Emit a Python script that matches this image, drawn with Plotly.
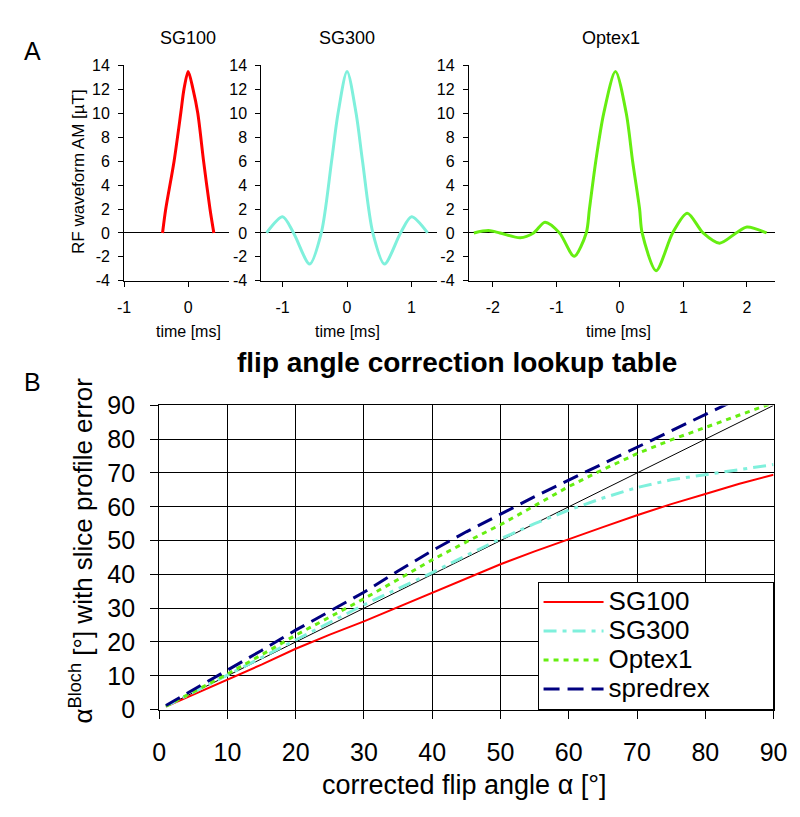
import plotly.graph_objects as go

# --- panel A: RF waveform amplitude [uT] vs time [ms] ---
sg100_t = [-0.40, -0.35, -0.22, -0.116, -0.066, 0.0, 0.076, 0.15, 0.24, 0.34, 0.40]
sg100_b1 = [0.0, 2.0, 6.0, 10.0, 12.0, 13.5, 12.0, 10.0, 6.0, 2.0, 0.0]

sg300_t = [-1.25, -1.0, -0.83, -0.58, -0.40, -0.24, -0.14, 0.0, 0.14, 0.24, 0.40, 0.58, 0.83, 1.0, 1.25]
sg300_b1 = [0.0, 1.35, 0.0, -2.6, 0.0, 6.0, 10.0, 13.5, 10.0, 6.0, 0.0, -2.6, 0.0, 1.35, 0.0]

optex_t = [-2.30, -2.07, -1.89, -1.57, -1.36, -1.18, -0.95, -0.72, -0.53, -0.48, -0.38, -0.255,
           -0.07, 0.10, 0.20, 0.31, 0.35, 0.57, 0.83, 1.06, 1.31, 1.57, 1.83, 2.0, 2.31]
optex_b1 = [0.0, 0.2, 0.0, -0.4, 0.0, 0.9, 0.0, -1.95, 0.0, 2.0, 6.0, 10.0,
            13.5, 10.0, 6.0, 2.0, 0.0, -3.15, 0.0, 1.65, 0.0, -0.85, 0.0, 0.5, 0.0]

b1_ticks = [-4, -2, 0, 2, 4, 6, 8, 10, 12, 14]
b1_labels = ["-4", "-2", "0", "2", "4", "6", "8", "10", "12", "14"]
t_ticks = [-2, -1, 0, 1, 2]
t_labels = ["-2", "-1", "0", "1", "2"]

# --- panel B: flip angle correction lookup table ---
alpha = [1, 5, 10, 15, 20, 25, 30, 35, 40, 45, 50, 55, 60, 65, 70, 75, 80, 85, 90]
sg100 = [0.9, 4.4, 8.8, 13.3, 18.0, 22.2, 26.1, 30.3, 34.5, 38.8, 43.0, 46.8, 50.5, 54.0, 57.5, 60.8, 63.8, 66.8, 69.5]
sg300 = [1.0, 5.0, 10.2, 15.4, 20.6, 25.8, 31.0, 35.8, 40.5, 45.6, 50.5, 55.0, 59.0, 62.6, 65.7, 68.0, 69.6, 71.0, 72.5]
optex1 = [1.0, 5.2, 10.5, 16.2, 22.0, 27.4, 32.8, 38.5, 44.3, 49.6, 54.7, 60.3, 66.0, 71.0, 75.7, 79.8, 83.5, 87.2, 90.8]
spredrex = [1.2, 5.8, 11.5, 17.5, 23.5, 29.0, 34.7, 41.0, 47.0, 52.6, 57.8, 63.0, 67.9, 72.8, 77.6, 82.6, 87.6, 92.5, 97.0]
identity = [1, 90]

W, H = 800, 817
FONT = "Liberation Sans, Arial, sans-serif"

RED = "#FF0000"
CYAN = "#7FF0DC"
GREEN = "#66EE11"
NAVY = "#000080"


def px_x(p):
    return p / W


def px_y(p):
    return 1 - p / H


def big(name):
    # legend text larger than the legend row height would allow, padded to widen the box
    return '<span style="font-size:26px">' + name + "\u00a0" * 8 + "</span>"


fig = go.Figure()

# top waveforms
fig.add_trace(go.Scatter(x=sg100_t, y=sg100_b1, mode="lines", line=dict(color=RED, width=3, shape="spline", smoothing=0.8),
                         xaxis="x", yaxis="y", showlegend=False))
fig.add_trace(go.Scatter(x=sg300_t, y=sg300_b1, mode="lines", line=dict(color=CYAN, width=3, shape="spline", smoothing=0.8),
                         xaxis="x2", yaxis="y2", showlegend=False))
fig.add_trace(go.Scatter(x=optex_t, y=optex_b1, mode="lines", line=dict(color=GREEN, width=3, shape="spline", smoothing=0.8),
                         xaxis="x3", yaxis="y3", showlegend=False))

# lookup table
fig.add_trace(go.Scatter(x=identity, y=identity, mode="lines", line=dict(color="black", width=1),
                         xaxis="x4", yaxis="y4", showlegend=False))
fig.add_trace(go.Scatter(x=alpha, y=sg100, mode="lines", name=big("SG100"), line=dict(color=RED, width=2),
                         xaxis="x4", yaxis="y4"))
fig.add_trace(go.Scatter(x=alpha, y=sg300, mode="lines", name=big("SG300"),
                         line=dict(color=CYAN, width=3, dash="13px,6px,4px,6px"), xaxis="x4", yaxis="y4"))
fig.add_trace(go.Scatter(x=alpha, y=optex1, mode="lines", name=big("Optex1"),
                         line=dict(color=GREEN, width=3, dash="5px,5px"), xaxis="x4", yaxis="y4"))
fig.add_trace(go.Scatter(x=alpha, y=spredrex, mode="lines", name=big("spredrex"),
                         line=dict(color=NAVY, width=3, dash="16px,8px"), xaxis="x4", yaxis="y4"))

top_dom = [px_y(268), px_y(45)]
top_x = dict(showline=True, linecolor="black", linewidth=1, ticks="outside", ticklen=5, tickcolor="black",
             showgrid=False, zeroline=False, tickvals=t_ticks, ticktext=t_labels, ticklabelstandoff=7,
             tickfont=dict(family=FONT, size=16, color="black"))
top_y = dict(range=[-4, 14], tickvals=b1_ticks, ticktext=b1_labels, showline=True, linecolor="black", linewidth=1,
             ticks="outside", ticklen=5, tickcolor="black", ticklabelstandoff=5,
             showgrid=False, zeroline=True, zerolinecolor="black", zerolinewidth=1,
             tickfont=dict(family=FONT, size=16, color="black"), domain=top_dom)

fig.update_layout(
    width=W, height=H,
    margin=dict(l=0, r=0, t=0, b=0),
    paper_bgcolor="white", plot_bgcolor="white",
    font=dict(family=FONT, color="black"),
    xaxis=dict(top_x, domain=[px_x(112), px_x(220)], range=[-1, 0.64], anchor="y"),
    yaxis=dict(top_y, anchor="x"),
    xaxis2=dict(top_x, domain=[px_x(253), px_x(433)], range=[-1.33, 1.39], anchor="y2"),
    yaxis2=dict(top_y, anchor="x2"),
    xaxis3=dict(top_x, domain=[px_x(466), px_x(781)], range=[-2.38, 2.45], anchor="y3"),
    yaxis3=dict(top_y, anchor="x3"),
    xaxis4=dict(domain=[px_x(148), px_x(779)], range=[0, 90], dtick=10, anchor="y4",
                showline=True, mirror=True, linecolor="black", linewidth=1,
                showgrid=True, gridcolor="black", gridwidth=1, zeroline=False,
                ticks="outside", ticklen=8, tickcolor="black", ticklabelstandoff=12,
                tickfont=dict(family=FONT, size=25, color="black")),
    yaxis4=dict(domain=[px_y(712), px_y(397)], range=[0, 90], dtick=10, anchor="x4",
                showline=True, mirror=True, linecolor="black", linewidth=1,
                showgrid=True, gridcolor="black", gridwidth=1, zeroline=False,
                ticks="outside", ticklen=8, tickcolor="black", ticklabelstandoff=10,
                tickfont=dict(family=FONT, size=25, color="black")),
    legend=dict(x=px_x(779), y=px_y(712), xanchor="right", yanchor="bottom",
                bgcolor="white", bordercolor="black", borderwidth=1,
                font=dict(family=FONT, size=20, color="black"),
                itemwidth=60, tracegroupgap=0),
)

ann = [
    dict(text="A", x=px_x(18), y=px_y(30), font=dict(size=25)),
    dict(text="B", x=px_x(18), y=px_y(373), font=dict(size=25)),
    dict(text="SG100", x=px_x(178), y=px_y(17), font=dict(size=18)),
    dict(text="SG300", x=px_x(341), y=px_y(17), font=dict(size=18)),
    dict(text="Optex1", x=px_x(612), y=px_y(17), font=dict(size=18)),
    dict(text="RF waveform AM [µT]", x=px_x(65), y=px_y(155), textangle=-90, font=dict(size=17)),
    dict(text="time [ms]", x=px_x(178), y=px_y(320), font=dict(size=16)),
    dict(text="time [ms]", x=px_x(341), y=px_y(320), font=dict(size=16)),
    dict(text="time [ms]", x=px_x(620), y=px_y(320), font=dict(size=16)),
    dict(text="<b>flip angle correction lookup table</b>", x=px_x(454), y=px_y(353), font=dict(size=28)),
    dict(text="α<sup>Bloch</sup> [°] with slice profile error", x=px_x(68), y=px_y(547),
         textangle=-90, font=dict(size=26)),
    dict(text="corrected flip angle α [°]", x=px_x(462), y=px_y(790), font=dict(size=27)),
]
for a in ann:
    a.setdefault("font", {})
    a["font"].setdefault("family", FONT)
    a["font"]["color"] = "black"
    fig.add_annotation(a, xref="paper", yref="paper", showarrow=False, xanchor="center", yanchor="middle")

fig.write_html("out.html")
